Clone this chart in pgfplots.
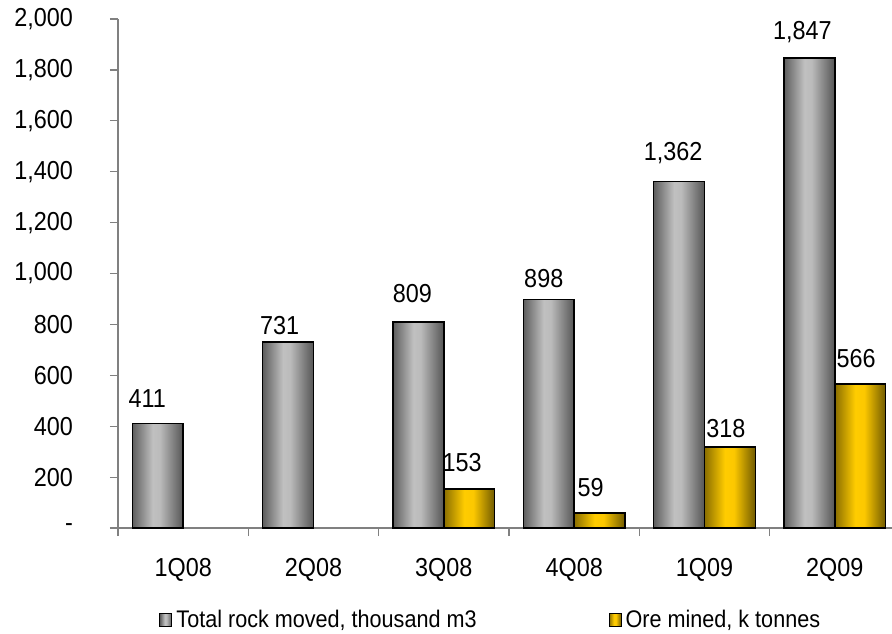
\documentclass[border=0pt]{standalone}
\usepackage{pgfplots}
\pgfplotsset{compat=1.18}
\usepackage{fontspec}
\setmainfont{Liberation Sans}[FakeStretch=0.9]
\definecolor{axgray}{HTML}{808080}
\definecolor{gA}{HTML}{5E5E5E}
\definecolor{gB}{HTML}{C0C0C0}
\definecolor{gC}{HTML}{BBBBBB}
\definecolor{gD}{HTML}{555555}
\definecolor{yA}{HTML}{8A6E00}
\definecolor{yB}{HTML}{FFCC00}
\definecolor{yC}{HTML}{FCC800}
\definecolor{yD}{HTML}{705A00}
\pgfdeclarehorizontalshading{grayshade}{100bp}{color(0bp)=(gA); color(25bp)=(gA); color(45bp)=(gB); color(52bp)=(gC); color(75bp)=(gD); color(100bp)=(gD)}
\pgfdeclarehorizontalshading{yellowshade}{100bp}{color(0bp)=(yA); color(25bp)=(yA); color(45bp)=(yB); color(54bp)=(yC); color(75bp)=(yD); color(100bp)=(yD)}
\pgfplotstableread{
x y dx dy
0 411 -17.95 7.5
1 731 -16.95 3.5
2 809 -15.7 9.5
3 898 -15.2 5.5
4 1362 -15.7 8.5
5 1847 -16.2 7
}\rock
\pgfplotstableread{
x y dx dy
2 153 9.2 8.5
3 59 8.2 8
4 318 10.7 4.5
5 566 10.7 8
}\ore
\pgfplotsset{
 rockbar/.style={ybar, bar shift=-0.195, draw=none, shade, shading=grayshade, forget plot},
 orebar/.style={ybar, bar shift=0.195, draw=none, shade, shading=yellowshade, forget plot},
}
\begin{document}
\begin{tikzpicture}
\path[use as bounding box] (-59pt,-52.5pt) rectangle (387pt,264pt);
\begin{axis}[
 at={(0,0)}, anchor=south west,
 scale only axis, width=391pt, height=254.5pt,
 xmin=-0.5, xmax=5.5, ymin=0, ymax=2000,
 axis lines*=left,
 axis line style={axgray, line width=0.6pt},
 tick align=outside, major tick length=4pt,
 tick style={axgray, line width=0.6pt},
 ytick={0,200,...,2000},
 yticklabels={-,200,400,600,800,{1,000},{1,200},{1,400},{1,600},{1,800},{2,000}},
 yticklabel style={xshift=-15pt},
 xtick={-0.5,0.5,...,5.5}, xticklabels={},
 extra x ticks={0,1,2,3,4,5},
 extra x tick labels={1Q08,2Q08,3Q08,4Q08,1Q09,2Q09},
 extra x tick style={major tick length=0pt, xticklabel style={yshift=-11.5pt}},
 font=\fontsize{13}{15}\selectfont,
 ticklabel style={font=\fontsize{13}{15}\selectfont},
 /pgf/number format/.cd, 1000 sep={,}, assume math mode=true, /pgfplots/.cd,
 bar width=0.39,
 clip=false,
 legend style={at={(0.478,-0.181)}, anchor=center, draw=none, fill=none,
   legend columns=2, font=\fontsize{12}{14}\selectfont,
   /tikz/every even column/.append style={column sep=64pt}},
]
% shaded bars, one path each so that every bar gets its own gradient
\addplot[rockbar] coordinates {(0,411)};
\addplot[rockbar] coordinates {(1,731)};
\addplot[rockbar] coordinates {(2,809)};
\addplot[rockbar] coordinates {(3,898)};
\addplot[rockbar] coordinates {(4,1362)};
\addplot[rockbar] coordinates {(5,1847)};
\addplot[orebar] coordinates {(2,153)};
\addplot[orebar] coordinates {(3,59)};
\addplot[orebar] coordinates {(4,318)};
\addplot[orebar] coordinates {(5,566)};
% outlines, labels and legend
\addplot[ybar, bar shift=-0.195, draw=black, line width=0.7pt, fill=none,
  visualization depends on={\thisrow{dx} \as \dx},
  visualization depends on={\thisrow{dy} \as \dy},
  nodes near coords={\pgfmathprintnumber{\pgfplotspointmeta}},
  every node near coord/.append style={font=\fontsize{13}{15}\selectfont, inner sep=0pt, anchor=south, xshift=\dx pt, yshift=\dy pt, black},
  legend image code/.code={\draw[draw=black, line width=0.5pt, shade, shading=grayshade] (0pt,-3.2pt) rectangle (6pt,3.2pt);}]
  table[x=x, y=y] {\rock};
\addlegendentry{Total rock moved, thousand m3}
\addplot[ybar, bar shift=0.195, draw=black, line width=0.7pt, fill=none,
  visualization depends on={\thisrow{dx} \as \dx},
  visualization depends on={\thisrow{dy} \as \dy},
  nodes near coords={\pgfmathprintnumber{\pgfplotspointmeta}},
  every node near coord/.append style={font=\fontsize{13}{15}\selectfont, inner sep=0pt, anchor=south, xshift=\dx pt, yshift=\dy pt, black},
  legend image code/.code={\draw[draw=black, line width=0.5pt, shade, shading=yellowshade] (0pt,-3.2pt) rectangle (6pt,3.2pt);}]
  table[x=x, y=y] {\ore};
\addlegendentry{Ore mined, k tonnes}
\end{axis}
\end{tikzpicture}
\end{document}
